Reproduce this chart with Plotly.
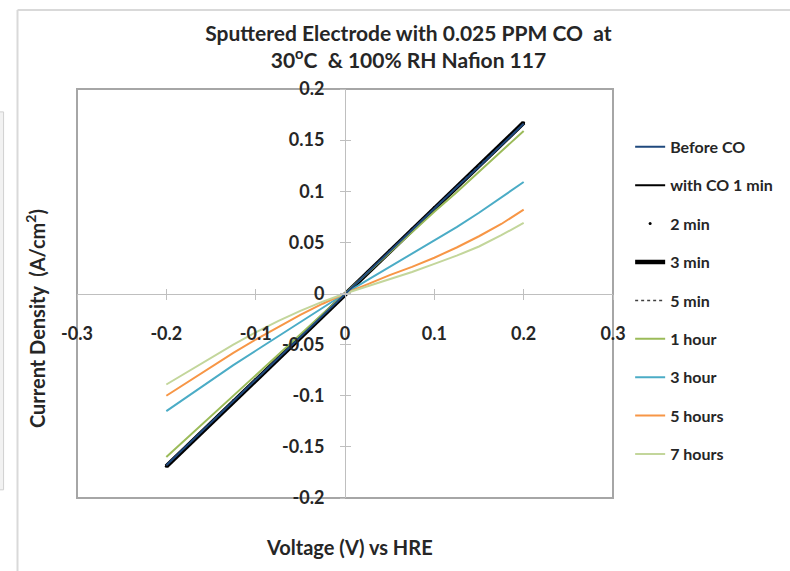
import plotly.graph_objects as go

# Voltage sweep (V vs HRE)
voltage = [-0.2, -0.175, -0.15, -0.125, -0.1, -0.075, -0.05, -0.025, 0.0,
           0.025, 0.05, 0.075, 0.1, 0.125, 0.15, 0.175, 0.2]

# Current density (A/cm^2) for each exposure time
before_co = [-0.168, -0.147, -0.126, -0.105, -0.084, -0.063, -0.042, -0.021, 0.0,
             0.021, 0.042, 0.063, 0.083, 0.104, 0.124, 0.145, 0.166]
co_1min = [-0.168, -0.147, -0.126, -0.105, -0.084, -0.063, -0.042, -0.021, 0.0,
           0.021, 0.042, 0.062, 0.083, 0.104, 0.125, 0.145, 0.166]
co_2min = [-0.169, -0.148, -0.127, -0.105, -0.084, -0.063, -0.042, -0.021, 0.0,
           0.021, 0.042, 0.063, 0.084, 0.104, 0.125, 0.146, 0.167]
co_3min = [-0.169, -0.148, -0.127, -0.105, -0.084, -0.063, -0.042, -0.021, 0.0,
           0.021, 0.042, 0.063, 0.084, 0.104, 0.125, 0.146, 0.167]
co_5min = [-0.168, -0.147, -0.126, -0.105, -0.084, -0.063, -0.042, -0.021, 0.0,
           0.021, 0.042, 0.063, 0.083, 0.104, 0.125, 0.145, 0.166]
co_1hr = [-0.160, -0.140, -0.120, -0.100, -0.080, -0.060, -0.040, -0.020, 0.0,
          0.020, 0.040, 0.060, 0.080, 0.099, 0.119, 0.139, 0.159]
co_3hr = [-0.115, -0.100, -0.085, -0.070, -0.056, -0.042, -0.028, -0.014, 0.0,
          0.013, 0.026, 0.039, 0.052, 0.065, 0.079, 0.094, 0.109]
co_5hr = [-0.100, -0.086, -0.072, -0.058, -0.045, -0.033, -0.021, -0.010, 0.0,
          0.009, 0.018, 0.026, 0.035, 0.045, 0.056, 0.068, 0.082]
co_7hr = [-0.089, -0.076, -0.063, -0.050, -0.038, -0.027, -0.017, -0.008, 0.0,
          0.007, 0.014, 0.021, 0.029, 0.037, 0.046, 0.057, 0.069]

x_ticks = [-0.3, -0.2, -0.1, 0, 0.1, 0.2, 0.3]
x_tick_text = ["-0.3", "-0.2", "-0.1", "0", "0.1", "0.2", "0.3"]
y_ticks = [-0.2, -0.15, -0.1, -0.05, 0, 0.05, 0.1, 0.15, 0.2]
y_tick_text = ["-0.2", "-0.15", "-0.1", "-0.05", "0", "0.05", "0.1", "0.15", "0.2"]

FONT = "Lato"
TEXT = "#262626"

series = [
    ("Before CO", before_co, dict(mode="lines", line=dict(color="#1F497D", width=2))),
    ("with CO 1 min", co_1min, dict(mode="lines", line=dict(color="#000000", width=2))),
    ("2 min", co_2min, dict(mode="markers", marker=dict(color="#000000", size=3))),
    ("3 min", co_3min, dict(mode="lines", line=dict(color="#000000", width=4.5))),
    ("5 min", co_5min, dict(mode="lines", line=dict(color="#404040", width=1.5, dash="dot"))),
    ("1 hour", co_1hr, dict(mode="lines", line=dict(color="#9BBB59", width=2))),
    ("3 hour", co_3hr, dict(mode="lines", line=dict(color="#4BACC6", width=2))),
    ("5 hours", co_5hr, dict(mode="lines", line=dict(color="#F79646", width=2))),
    ("7 hours", co_7hr, dict(mode="lines", line=dict(color="#C3D69B", width=2))),
]

fig = go.Figure()
for i, (name, values, style) in enumerate(series):
    # the first series sits on the overlay axes that carry the upward/leftward ticks
    axes = dict(xaxis="x2", yaxis="y2") if i == 0 else {}
    fig.add_trace(go.Scatter(x=voltage, y=values, name=name, legendgroup=name,
                             hoverinfo="skip", **style, **axes))

axis_line = dict(showline=True, linecolor="#BFBFBF", linewidth=1, showgrid=False,
                 zeroline=False, tickcolor="#BFBFBF", ticklen=5, tickwidth=1)
tick_font = dict(family=FONT, size=18, color=TEXT, weight="bold")

fig.update_layout(
    width=790, height=571,
    margin=dict(l=77, r=173, t=89, b=73),
    paper_bgcolor="white", plot_bgcolor="white",
    showlegend=True,
    title=dict(
        text="Sputtered Electrode with 0.025 PPM CO  at<br>30<sup>o</sup>C  & 100% RH Nafion 117",
        x=0.517, xanchor="center", y=0.929, yanchor="middle",
        font=dict(family=FONT, size=21, color=TEXT, weight="bold"),
    ),
    xaxis=dict(range=[-0.3, 0.3], tickvals=x_ticks, ticktext=x_tick_text,
               anchor="free", position=0.5, ticks="outside", ticklabelstandoff=19,
               tickfont=tick_font, **axis_line),
    yaxis=dict(range=[-0.2, 0.2], tickvals=y_ticks, ticktext=y_tick_text,
               anchor="free", position=0.5, ticks="outside", ticklabelstandoff=12,
               tickfont=tick_font, **axis_line),
    xaxis2=dict(range=[-0.3, 0.3], tickvals=x_ticks, overlaying="x", anchor="free",
                position=0.5, ticks="inside", showticklabels=False, **axis_line),
    yaxis2=dict(range=[-0.2, 0.2], tickvals=y_ticks, overlaying="y", anchor="free",
                position=0.5, ticks="inside", showticklabels=False, **axis_line),
    legend=dict(x=1.032, xanchor="left", y=0.90, yanchor="top",
                font=dict(family=FONT, size=16, color=TEXT, weight="bold"),
                tracegroupgap=14.6, bgcolor="rgba(0,0,0,0)"),
)

# axis titles sit outside the frame
fig.add_annotation(text="Voltage (V) vs HRE", xref="paper", yref="paper",
                   x=0.508, y=-0.12, showarrow=False, yanchor="middle",
                   font=dict(family=FONT, size=20, color=TEXT, weight="bold"))
fig.add_annotation(text="Current Density  (A/cm<sup>2</sup>)", xref="paper", yref="paper",
                   x=-0.078, y=0.438, showarrow=False, textangle=-90, xanchor="center",
                   font=dict(family=FONT, size=20, color=TEXT, weight="bold"))

# plot-area frame
fig.add_shape(type="rect", xref="paper", yref="paper", x0=0, x1=1, y0=0, y1=1,
              line=dict(color="#A6A6A6", width=2), layer="below")
# outer chart border and side panel edge
fig.add_shape(type="line", xref="paper", yref="paper", x0=-0.111, x1=1.4, y0=1.193, y1=1.193,
              line=dict(color="#D9D9D9", width=2))
fig.add_shape(type="line", xref="paper", yref="paper", x0=-0.111, x1=-0.111, y0=1.193, y1=-0.3,
              line=dict(color="#D9D9D9", width=2))
fig.add_shape(type="rect", xref="paper", yref="paper", x0=-0.16, x1=-0.137, y0=0.02, y1=0.944,
              line=dict(color="#D0D0D0", width=1), fillcolor="#F2F2F2")

fig.write_html("out.html")
